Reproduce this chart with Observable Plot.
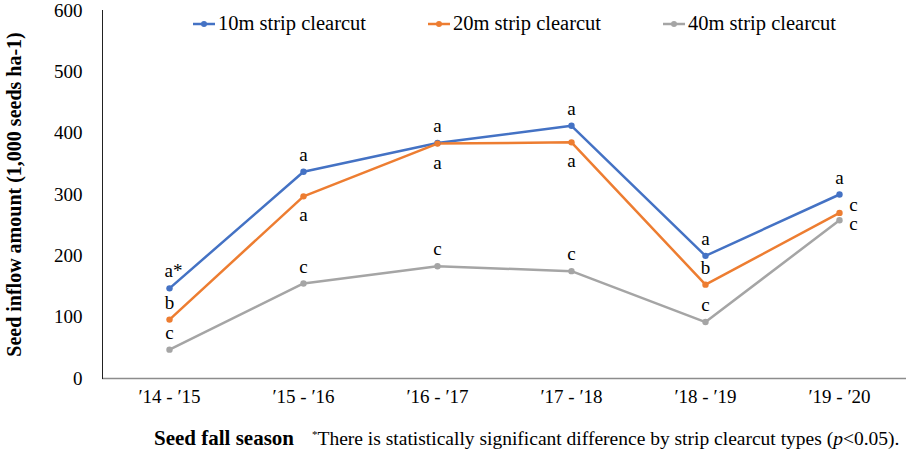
<!DOCTYPE html>
<html><head><meta charset="utf-8">
<script src="https://cdn.jsdelivr.net/npm/d3@7"></script>
<script src="https://cdn.jsdelivr.net/npm/@observablehq/plot@0.6"></script>
<style>
body{margin:0;background:#fff;}
#wrap{position:relative;width:909px;height:454px;font-family:"Liberation Serif","Times New Roman",serif;color:#000;}
#chart svg text{font-family:"Liberation Serif","Times New Roman",serif;}
.leg{position:absolute;top:12px;display:flex;align-items:center;font-size:20.5px;white-space:nowrap;}
.leg svg{margin-right:3px;}
#foot{position:absolute;top:426px;left:154px;font-size:19.5px;white-space:nowrap;}
#foot b{font-size:21px;margin-right:18px;}
</style></head><body>
<div id="wrap"><div id="chart"></div><div id="legend"></div><div id="foot"></div></div>
<script>
const seasons = ["′14 - ′15","′15 - ′16","′16 - ′17","′17 - ′18","′18 - ′19","′19 - ′20"];
const seriesNames = ["10m strip clearcut","20m strip clearcut","40m strip clearcut"];
const seriesColors = ["#4472C4","#ED7D31","#A5A5A5"];
const values10 = [147,337,384,412,200,300];
const values20 = [96,297,383,385,153,270];
const values40 = [47,155,183,175,92,258];
const letters10 = ["a*","a","a","a","a","a"];
const letters20 = ["b","a","a","a","b","c"];
const letters40 = ["c","c","c","c","c","c"];
const place10 = ["above","above","above","above","above","above"];
const place20 = ["above","below","below","below","above","rightUp"];
const place40 = ["above","above","above","above","above","rightDown"];
const yTicks = [0,100,200,300,400,500,600];
const yLabel = "Seed inflow amount (1,000 seeds ha-1)";
const xLabel = "Seed fall season";
const footnote = "There is statistically significant difference by strip clearcut types (<i>p</i>&lt;0.05).";

const allValues = [values10, values20, values40];
const allLetters = [letters10, letters20, letters40];
const allPlaces = [place10, place20, place40];
const rows = [];
seriesNames.forEach((s, i) => seasons.forEach((season, j) => rows.push({
  season, series: s, value: allValues[i][j], letter: allLetters[i][j], place: allPlaces[i][j]
})));
const starred = d => d.letter.endsWith("*");
const lab = (filter, opts) => Plot.text(rows.filter(filter), {x: "season", y: "value", text: "letter", fontSize: 19, ...opts});

const plot = Plot.plot({
  width: 909, height: 454,
  marginLeft: 102, marginRight: 3, marginTop: 10, marginBottom: 76,
  style: {fontFamily: "Liberation Serif, Times New Roman, serif", fontSize: "19px", color: "#000", background: "#fff"},
  x: {type: "point", domain: seasons, padding: 0.5},
  y: {domain: [0, 600]},
  color: {domain: seriesNames, range: seriesColors},
  marks: [
    Plot.ruleY([0], {stroke: "#8c8c8c", strokeWidth: 1.3}),
    Plot.frame({anchor: "left", stroke: "#222", strokeWidth: 1}),
    Plot.axisY({ticks: yTicks, tickSize: 0, tickPadding: 20, label: null, fontSize: 19}),
    Plot.axisX({tickSize: 0, tickPadding: 11, label: null, fontSize: 19}),
    Plot.text([yLabel], {frameAnchor: "left", textAnchor: "middle", rotate: -90, dx: -88, fontWeight: "bold", fontSize: 20}),
    Plot.line(rows, {x: "season", y: "value", z: "series", stroke: "series", strokeWidth: 2.5}),
    Plot.dot(rows, {x: "season", y: "value", fill: "series", r: 3.2}),
    lab(d => d.place === "above" && !starred(d), {dy: -17}),
    lab(d => d.place === "above" && starred(d), {dy: -17, dx: -5, textAnchor: "start"}),
    lab(d => d.place === "below", {dy: 19}),
    lab(d => d.place === "rightUp", {dx: 14, dy: -8}),
    lab(d => d.place === "rightDown", {dx: 14, dy: 4})
  ]
});
document.getElementById("chart").append(plot);

const legend = document.getElementById("legend");
seriesNames.forEach((s, i) => {
  const item = document.createElement("div");
  item.className = "leg";
  item.style.left = (193 + i * 235) + "px";
  item.innerHTML = `<svg width="22" height="10"><line x1="0" x2="22" y1="5" y2="5" stroke="${seriesColors[i]}" stroke-width="2.5"/><circle cx="11" cy="5" r="3" fill="${seriesColors[i]}"/></svg><span>${s}</span>`;
  legend.append(item);
});
document.getElementById("foot").innerHTML = `<b>${xLabel}</b><sup style="font-size:11px">*</sup>${footnote}`;
</script>
</body></html>
